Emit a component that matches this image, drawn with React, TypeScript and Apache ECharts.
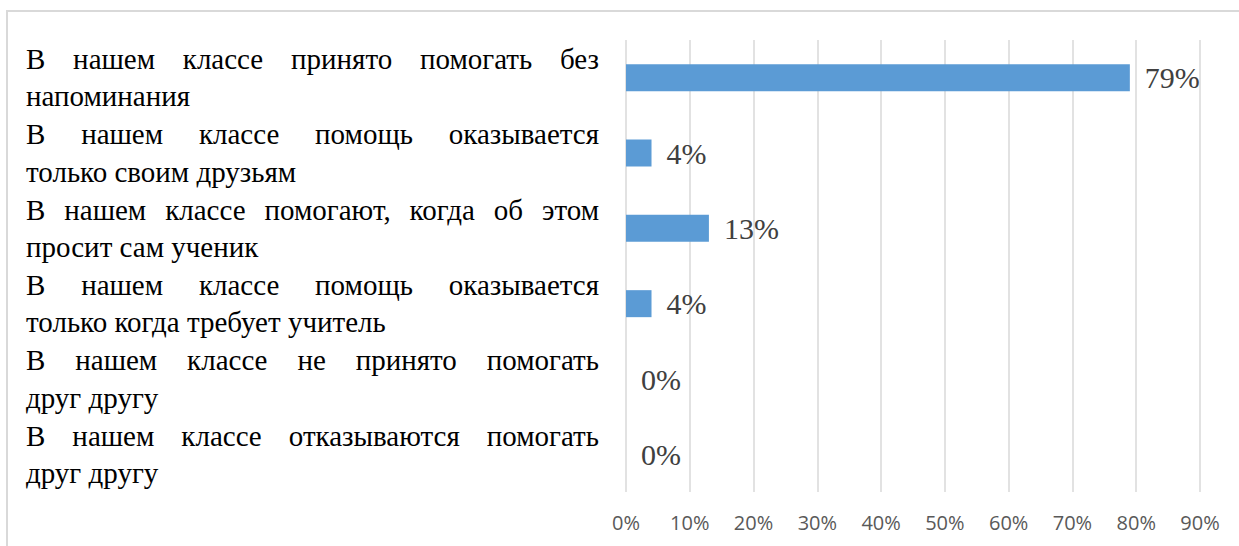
import React, { useEffect, useRef } from "react";
import * as echarts from "echarts";

// Category labels, split into their two displayed lines
const categoryLines: string[][] = [
  ["В нашем классе принято помогать без", "напоминания"],
  ["В нашем классе помощь оказывается", "только своим друзьям"],
  ["В нашем классе помогают, когда об этом", "просит сам ученик"],
  ["В нашем классе помощь оказывается", "только когда требует учитель"],
  ["В нашем классе не принято помогать", "друг другу"],
  ["В нашем классе отказываются помогать", "друг другу"],
];
const categories: string[] = categoryLines.map((l) => l.join(" "));
const values: number[] = [79, 4, 13, 4, 0, 0];
const xTicks: number[] = [0, 10, 20, 30, 40, 50, 60, 70, 80, 90];

const LABEL_FONT = "Liberation Serif";
const LABEL_SIZE = 29;
const TEXT_LEFT = 26;
const TEXT_RIGHT = 599;
const GRID_LEFT = 626;

export default function App() {
  const ref = useRef<HTMLDivElement>(null);

  useEffect(() => {
    if (!ref.current) return;
    const canvas = document.createElement("canvas");
    const ctx = canvas.getContext("2d")!;
    ctx.font = `${LABEL_SIZE}px ${LABEL_FONT}`;
    const justifyWidth = TEXT_RIGHT - TEXT_LEFT;

    const baseText = {
      fontFamily: LABEL_FONT,
      fontSize: LABEL_SIZE,
      lineHeight: 37.5,
      color: "#000000",
    };
    const rich: Record<string, any> = { t: { ...baseText } };
    const built: string[] = categoryLines.map((lines, i) => {
      const words = lines[0].split(" ");
      const wordsW = words.reduce((s, w) => s + ctx.measureText(w).width, 0);
      const gap = Math.max(0, (justifyWidth - wordsW) / (words.length - 1));
      rich["g" + i] = { ...baseText, width: gap };
      const first = words.map((w) => `{t|${w}}`).join(`{g${i}| }`);
      return first + "\n" + `{t|${lines[1]}}`;
    });

    const chart = echarts.init(ref.current, null, { renderer: "svg" });
    chart.setOption({
      animation: false,
      backgroundColor: "#ffffff",
      graphic: [
        {
          type: "rect",
          shape: { x: 7, y: 11, width: 1400, height: 700 },
          style: { fill: "none", stroke: "#d9d9d9", lineWidth: 2 },
          silent: true,
          z: -1,
        },
      ],
      grid: { left: GRID_LEFT, right: 39, top: 40, bottom: 54 },
      xAxis: {
        type: "value",
        min: xTicks[0],
        max: xTicks[xTicks.length - 1],
        interval: 10,
        axisLine: { show: false },
        axisTick: { show: false },
        axisLabel: {
          formatter: "{value}%",
          color: "#595959",
          fontSize: 20,
          fontFamily: "Open Sans",
          margin: 20,
        },
        splitLine: { show: true, lineStyle: { color: "#d9d9d9", width: 1.5 } },
      },
      yAxis: {
        type: "category",
        inverse: true,
        data: categories,
        axisLine: { show: false },
        axisTick: { show: false },
        splitLine: { show: false },
        axisLabel: {
          align: "left",
          margin: GRID_LEFT - TEXT_LEFT,
          color: "#000000",
          fontFamily: LABEL_FONT,
          fontSize: LABEL_SIZE,
          lineHeight: 37.5,
          formatter: (_v: string, idx: number) => built[idx],
          rich,
        },
      },
      series: [
        {
          type: "bar",
          data: values,
          barWidth: 27,
          itemStyle: { color: "#5B9BD5" },
          label: {
            show: true,
            position: "right",
            distance: 15,
            formatter: "{c}%",
            fontFamily: LABEL_FONT,
            fontSize: 30,
            color: "#404040",
          },
        },
      ],
    });
    return () => chart.dispose();
  }, []);

  return (
    <div
      ref={ref}
      style={{
        position: "fixed",
        left: 0,
        top: 0,
        width: 1239,
        height: 546,
        background: "#fff",
      }}
    />
  );
}
